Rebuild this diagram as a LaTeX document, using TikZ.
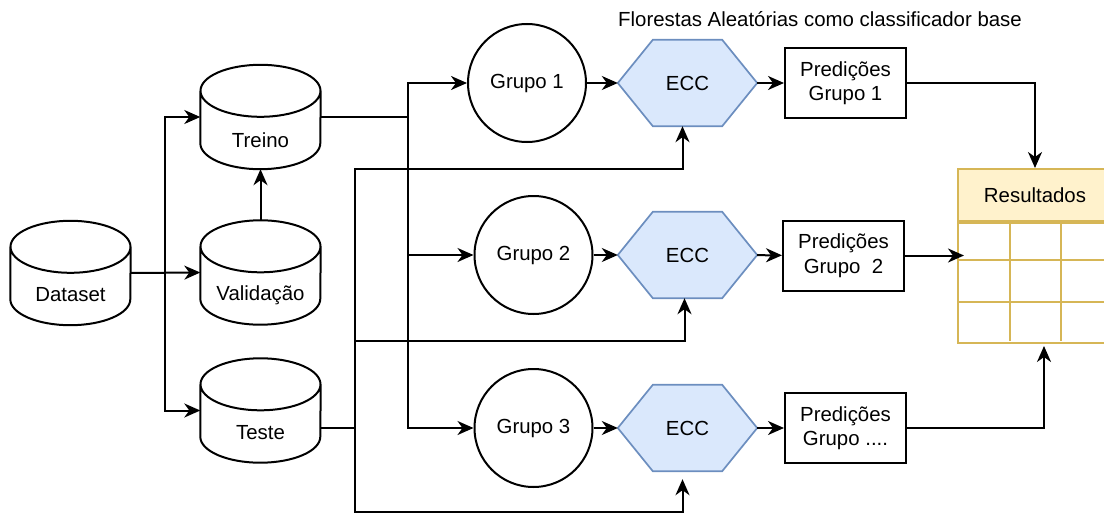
\documentclass[tikz,border=0pt]{standalone}
\usepackage{fontspec}
\setmainfont{Liberation Sans}
\usetikzlibrary{arrows.meta}
\pgfdeclarelayer{background}
\pgfsetlayers{background,main}
\definecolor{eccfill}{HTML}{DAE8FC}
\definecolor{eccdraw}{HTML}{6C8EBF}
\definecolor{resfill}{HTML}{FFF2CC}
\definecolor{resdraw}{HTML}{D6B656}

\begin{document}
\begin{tikzpicture}[x=1pt, y=-1pt, font=\fontsize{20.4}{24.5}\selectfont,
  linha/.style={line width=2pt},
  arr/.style={linha, -{Stealth[length=16pt, width=14pt, inset=5pt]}},
  db/.style={minimum width=120, minimum height=104, inner sep=0},
  grupo/.style={circle, draw, linha, minimum size=118, inner sep=0},
  hexa/.style={minimum width=139, minimum height=86, inner sep=0},
  pred/.style={draw, linha, minimum width=121, minimum height=70, inner sep=0, align=center},
  tab/.style={draw=resdraw, linha, minimum width=154, inner sep=0}]
\useasboundingbox (0,0) rectangle (1104,514);

% bases de dados
\node[db, label={[name=datasettxt, yshift=-22pt]center:Dataset}] (dataset) at (70.5,273) {};
\node[db, label={[name=treinotxt, yshift=-23pt]center:Treino}] (treino) at (260.5,117) {};
\node[db, label={[name=validacaotxt, yshift=-23pt]center:Validação}] (validacao) at (260.5,272.5) {};
\node[db, label={[name=testetxt, yshift=-22pt]center:Teste}] (teste) at (260.5,410.5) {};
\foreach \n in {dataset, treino, validacao, teste}
  \draw[linha] ([yshift=-26]\n.north west) -- ([yshift=26]\n.south west)
    arc[start angle=180, end angle=360, x radius=60pt, y radius=26pt]
    -- ([yshift=-26]\n.north east)
    ([yshift=-26]\n.north) ellipse[x radius=60pt, y radius=26pt];

% grupos, ECC e predicoes
\node[grupo] (grupo1) at (527,83) {Grupo 1};
\node[grupo] (grupo2) at (533.5,255) {Grupo 2};
\node[grupo] (grupo3) at (533.5,428) {Grupo 3};
\foreach \i/\y in {1/83, 2/255, 3/428}
  \node[hexa] (ecc\i) at (687.5,\y) {ECC};
\begin{pgfonlayer}{background}
\foreach \i in {1,2,3}
  \draw[line width=1.7pt, draw=eccdraw, fill=eccfill] (ecc\i.west) -- ([xshift=35]ecc\i.north west)
    -- ([xshift=-35]ecc\i.north east) -- (ecc\i.east) -- ([xshift=-35]ecc\i.south east)
    -- ([xshift=35]ecc\i.south west) -- cycle;
\end{pgfonlayer}
\node[pred] (pred1) at (845.5,83) {Predições\\Grupo 1};
\node[pred] (pred2) at (843.5,255.5) {Predições\\Grupo\ \ 2};
\node[pred] (pred3) at (845.5,428) {Predições\\Grupo ....};

% resultados
\node[tab, fill=resfill, minimum height=52] (resultados) at (1035,195) {Resultados};
\node[tab, minimum height=120, anchor=north] (tabela) at (resultados.south) {};
\foreach \x in {1010,1061}
  \draw[linha, draw=resdraw] (\x,221) -- (\x,341);
\foreach \y in {260,302}
  \draw[linha, draw=resdraw] (958,\y) -- (1112,\y);

\node (titulo) at (820,19) {Florestas Aleatórias como classificador base};

% conexoes
\draw[arr] (dataset.east) -- ++(34,0) |- (treino.west);
\draw[arr] (dataset.east) -- (validacao.west);
\draw[arr] (dataset.east) -- ++(34,0) |- (teste.west);
\draw[arr] (validacao.north) -- (treino.south);
\foreach \i in {1,2,3}
  \draw[arr] (treino.east) -- ++(87,0) |- (grupo\i.west);
\draw[arr] ([yshift=-17.5]teste.east) -- ++(34,0) |- ([xshift=-5,yshift=-43]ecc1.south) -- ([xshift=-5]ecc1.south);
\draw[arr] ([yshift=-17.5]teste.east) -- ++(34,0) |- ([xshift=-3,yshift=-43]ecc2.south) -- ([xshift=-3]ecc2.south);
\draw[arr] ([yshift=-17.5]teste.east) -- ++(34,0) |- ([xshift=-5,yshift=-41]ecc3.south) -- ([xshift=-5,yshift=-8]ecc3.south);
\foreach \i in {1,2,3} {
  \draw[arr] (grupo\i) -- (ecc\i);
  \draw[arr] (ecc\i) -- (pred\i);
}
\draw[arr] (pred1.east) -| (resultados.north);
\coordinate (tabin) at ([xshift=7]tabela.west);
\draw[arr] (pred2.east) -- (tabin |- pred2.east);
\draw[arr] (pred3.east) -| ([xshift=9,yshift=-2]tabela.south);
\end{tikzpicture}
\end{document}
